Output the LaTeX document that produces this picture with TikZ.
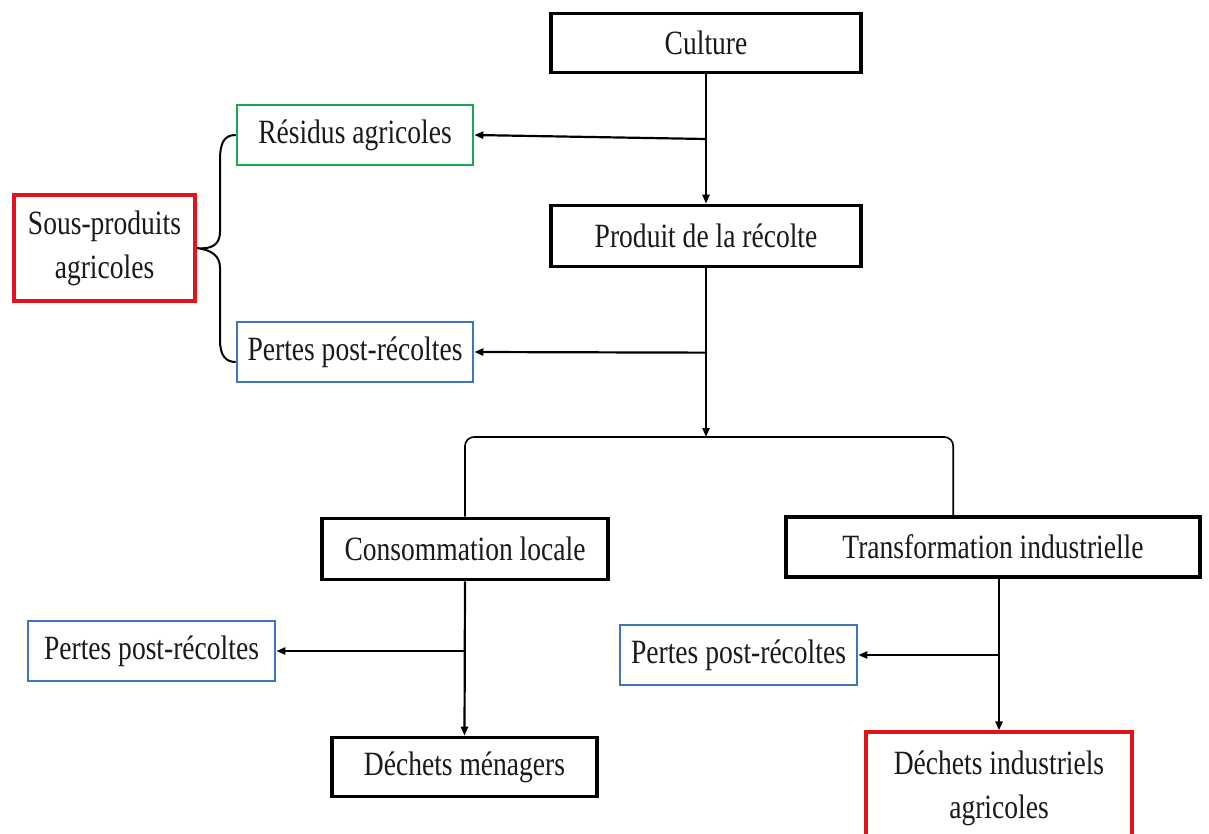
\documentclass[tikz,border=0pt]{standalone}
\usepackage{fontspec}
\setmainfont{Liberation Serif}[FakeStretch=0.81]
\usetikzlibrary{arrows.meta,calc}
\definecolor{cgreen}{HTML}{1EA552}
\definecolor{cred}{HTML}{E0141B}
\definecolor{cblue}{HTML}{3C78B6}
\definecolor{ctext}{HTML}{1A1A1A}
\begin{document}
\begin{tikzpicture}[x=1pt,y=-1pt,
  box/.style={draw, rectangle, inner sep=0pt, align=center, text=ctext,
    font=\fontsize{34}{44}\selectfont},
  blackbox/.style={box, draw=black, line width=3.6pt},
  greenbox/.style={box, draw=cgreen, line width=2.6pt},
  redbox/.style={box, draw=cred, line width=3.2pt},
  bluebox/.style={box, draw=cblue, line width=2.6pt},
  conn/.style={draw=black, line width=2.2pt},
  arr/.style={conn, -{Triangle[length=9pt,width=7pt]}},
  brace/.style={draw=black, line width=2pt},
  splitline/.style={draw=black, line width=1.6pt, rounded corners=9pt}]
\useasboundingbox (0,0) rectangle (1209,834);
\clip (0,0) rectangle (1209,834);
\fill[white] (0,0) rectangle (1209,834);

\node[blackbox, minimum width=310pt, minimum height=59pt] (culture) at (706,43) {Culture};
\node[greenbox, minimum width=236pt, minimum height=60pt] (residus) at (355,135) {Résidus agricoles};
\node[redbox, minimum width=181pt, minimum height=106pt] (sous) at (104.5,248) {Sous-produits\\agricoles};
\node[blackbox, minimum width=310pt, minimum height=61pt] (produit) at (706,236) {Produit de la récolte};
\node[bluebox, minimum width=236pt, minimum height=60pt] (pertes1) at (355,352) {Pertes post-récoltes};
\coordinate (split) at (706,437);
\node[blackbox, minimum width=286pt, minimum height=61pt] (conso) at (465,549) {Consommation locale};
\node[blackbox, minimum width=414pt, minimum height=60pt] (transfo) at (993,547) {Transformation industrielle};
\node[bluebox, minimum width=247pt, minimum height=60pt] (pertes2) at (151.5,651) {Pertes post-récoltes};
\node[blackbox, minimum width=265pt, minimum height=59pt] (menagers) at (464.5,767) {Déchets ménagers};
\node[bluebox, minimum width=237pt, minimum height=60pt] (pertes3) at (738.5,655) {Pertes post-récoltes};
\node[redbox, minimum width=266pt, minimum height=112pt] (indus) at (999,788) {Déchets industriels\\agricoles};

% top chain
\draw[arr] (culture.south) -- (produit.north);
\draw[arr] ($(culture.south)!0.5!(produit.north)$) -- (residus.east);
\draw[arr] (produit.south) -- (split);
\draw[arr] ($(produit.south)!0.5!(split)$) -- (pertes1.east);

% split to the two branches
\draw[splitline] (conso.north) |- (split) -| ([xshift=169pt]transfo.north west);

% left branch
\draw[arr] (conso.south) -- (menagers.north);
\draw[arr] (conso.south |- pertes2.east) -- (pertes2.east);

% right branch
\draw[arr] (indus.north |- transfo.south) -- (indus.north);
\draw[arr] (indus.north |- pertes3.east) -- (pertes3.east);

% brace
\draw[brace] (residus.west)
  .. controls (224,135) and (220,143) .. (220,160)
  -- (220,232)
  .. controls (220,244) and (212,250) .. (sous.east)
  .. controls (212,250) and (220,256) .. (220,268)
  -- (220,340)
  .. controls (220,356) and (226,362) .. (pertes1.west |- 0,362);
\end{tikzpicture}
\end{document}
